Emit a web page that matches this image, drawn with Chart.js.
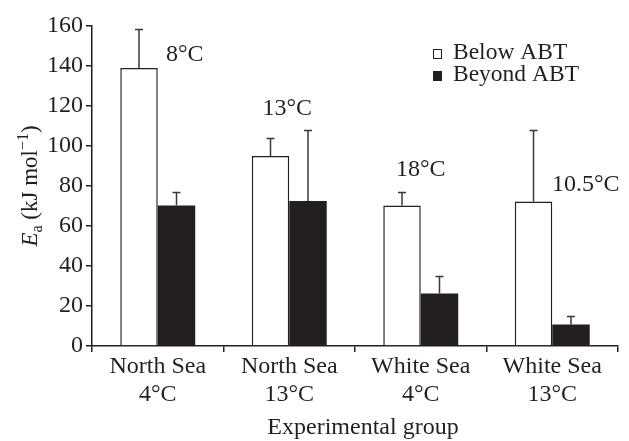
<!DOCTYPE html>
<html>
<head>
<meta charset="utf-8">
<script src="https://cdn.jsdelivr.net/npm/chart.js@4"></script>
<style>
  html, body { margin: 0; padding: 0; background: #fff; }
  #wrap { width: 629px; height: 441px; }
</style>
</head>
<body>
<div id="wrap"><canvas id="chart" width="629" height="441"></canvas></div>
<script>
const groups = [
    ["North Sea", "4°C"],
    ["North Sea", "13°C"],
    ["White Sea", "4°C"],
    ["White Sea", "13°C"],
];

const belowABT = [139, 95, 70.3, 72.3];
const belowErrTop = [158.2, 103.8, 76.8, 107.7];

const beyondABT = [70.3, 72.5, 26.2, 10.8];
const beyondErrTop = [76.8, 107.7, 34.7, 14.7];

const tempLabels = ["8°C", "13°C", "18°C", "10.5°C"];
const tempLabelValues = [145.5, 118.5, 88, 80.6];

const yTicks = [0, 20, 40, 60, 80, 100, 120, 140, 160];

const ink = "#231f20";
const serif = "'Liberation Serif', 'Times New Roman', serif";

// one-sided error bars, drawn from each bar's top up to the value in errTop
const errorBars = {
    id: "errorBars",
    afterDatasetsDraw(chart) {
        const ctx = chart.ctx;
        const y = chart.scales.y;
        ctx.save();
        ctx.strokeStyle = "#3a3738";
        ctx.lineWidth = 1.5;
        chart.data.datasets.forEach((ds, di) => {
            const meta = chart.getDatasetMeta(di);
            meta.data.forEach((bar, i) => {
                const top = y.getPixelForValue(ds.errTop[i]);
                ctx.beginPath();
                ctx.moveTo(bar.x, bar.y);
                ctx.lineTo(bar.x, top);
                ctx.moveTo(bar.x - 4, top);
                ctx.lineTo(bar.x + 4, top);
                ctx.stroke();
            });
        });
        ctx.restore();
    }
};

// temperature notes above each group
const tempNotes = {
    id: "tempNotes",
    afterDraw(chart) {
        const offsets = [27, -2, 0, 33.5];
        const ctx = chart.ctx;
        const x = chart.scales.x, y = chart.scales.y;
        ctx.save();
        ctx.font = "24px " + serif;
        ctx.fillStyle = ink;
        ctx.textAlign = "center";
        ctx.textBaseline = "middle";
        tempLabels.forEach((t, i) => {
            ctx.fillText(t, x.getPixelForValue(i) + offsets[i], y.getPixelForValue(tempLabelValues[i]));
        });
        ctx.restore();
    }
};

// legend and axis titles (the y title needs italic + sub/superscript)
const extras = {
    id: "extras",
    afterDraw(chart) {
        const ctx = chart.ctx;
        const area = chart.chartArea;
        ctx.save();
        ctx.fillStyle = ink;
        ctx.strokeStyle = ink;

        // legend
        ctx.font = "23.5px " + serif;
        ctx.textBaseline = "alphabetic";
        ctx.textAlign = "left";
        chart.data.datasets.forEach((ds, i) => {
            const base = 59 + i * 22;
            ctx.lineWidth = 1;
            if (i === 0) {
                ctx.fillStyle = "#fff";
                ctx.fillRect(433.5, base - 9.5, 8, 9);
                ctx.strokeRect(433.5, base - 9.5, 8, 9);
            } else {
                ctx.fillStyle = ink;
                ctx.fillRect(433, base - 10, 9, 10);
            }
            ctx.fillStyle = ink;
            ctx.fillText(ds.label, 453, base);
        });

        // x title
        ctx.font = "24px " + serif;
        ctx.textAlign = "center";
        ctx.fillText("Experimental group", (area.left + area.right) / 2 + 8, 434);

        // y title
        ctx.translate(37, (area.top + area.bottom) / 2);
        ctx.rotate(-Math.PI / 2);
        const parts = [
            { t: "E", f: "italic 23px " + serif, dy: 0 },
            { t: "a", f: "16px " + serif, dy: 5 },
            { t: " (kJ mol", f: "23px " + serif, dy: 0 },
            { t: "\u22121", f: "16px " + serif, dy: -9 },
            { t: ")", f: "23px " + serif, dy: 0 },
        ];
        let total = 0;
        parts.forEach(p => { ctx.font = p.f; p.w = ctx.measureText(p.t).width; total += p.w; });
        let cx = -total / 2;
        ctx.textAlign = "left";
        parts.forEach(p => {
            ctx.font = p.f;
            ctx.fillText(p.t, cx, p.dy);
            cx += p.w;
        });
        ctx.restore();
    }
};

new Chart(document.getElementById("chart").getContext("2d"), {
    type: "bar",
    data: {
        labels: groups,
        datasets: [{
            label: "Below ABT",
            data: belowABT,
            errTop: belowErrTop,
            backgroundColor: "#fff",
            borderColor: ink,
            borderWidth: 1.5,
        }, {
            label: "Beyond ABT",
            data: beyondABT,
            errTop: beyondErrTop,
            backgroundColor: ink,
            borderColor: ink,
            borderWidth: 0,
        }]
    },
    options: {
        responsive: false,
        animation: false,
        layout: { padding: { top: 26, right: 11, left: 0, bottom: 0 } },
        categoryPercentage: 0.57,
        barPercentage: 1,
        plugins: {
            legend: { display: false },
            tooltip: { enabled: false },
        },
        scales: {
            x: {
                afterFit(scale) { scale.height = 95; },
                grid: { drawOnChartArea: false, drawTicks: true, tickLength: 6, color: ink, lineWidth: 1.5, offset: true },
                border: { display: true, color: ink, width: 1.5 },
                ticks: { color: ink, font: { family: serif, size: 24, lineHeight: 1.17 }, padding: 1, maxRotation: 0 },
            },
            y: {
                min: 0,
                max: 160,
                afterFit(scale) { scale.width = 92; },
                afterBuildTicks(scale) { scale.ticks = yTicks.map(v => ({ value: v })); },
                grid: { drawOnChartArea: false, drawTicks: true, tickLength: 6, color: ink, lineWidth: 1.5 },
                border: { display: true, color: ink, width: 1.5 },
                ticks: { color: ink, font: { family: serif, size: 24 }, padding: 3 },
            }
        }
    },
    plugins: [errorBars, tempNotes, extras]
});
</script>
</body>
</html>
